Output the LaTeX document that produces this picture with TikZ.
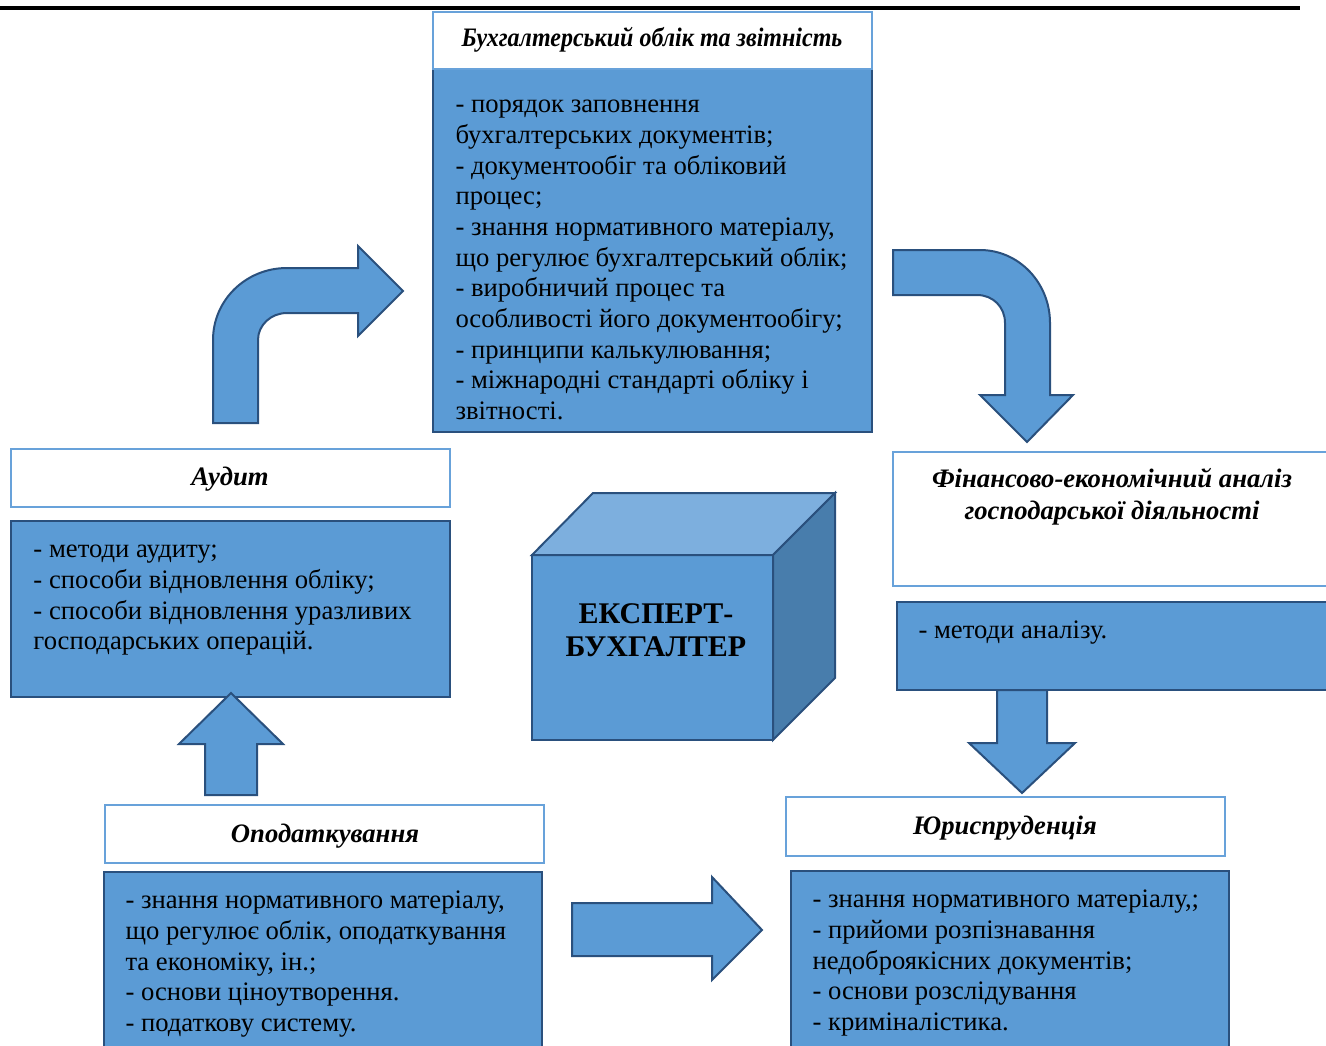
\documentclass[tikz,border=0pt]{standalone}
\usepackage{fontspec}
\setmainfont{Liberation Serif}

\definecolor{boxfill}{RGB}{91,155,213}
\definecolor{boxline}{RGB}{42,80,125}
\definecolor{titleline}{RGB}{104,162,218}
\definecolor{cubetop}{RGB}{125,175,222}
\definecolor{cubeside}{RGB}{72,125,172}

\tikzset{every picture/.style={line width=0.75pt}}
\tikzset{
  bluebox/.style={draw=boxline, fill=boxfill, line width=1.5pt},
  titlebox/.style={draw=titleline, fill=white, line width=2.2pt},
  blockarrow/.style={draw=boxline, fill=boxfill, line width=1.5pt, line join=miter},
  bodytext/.style={anchor=north west, inner sep=0pt, align=left, font=\fontsize{20}{23}\selectfont},
  headtext/.style={inner sep=0pt, align=center, font=\fontsize{20}{24}\selectfont\bfseries\itshape},
}

\begin{document}
\begin{tikzpicture}[x=0.75pt,y=0.75pt,yscale=-1,xscale=1]
\path[use as bounding box] (0,0) rectangle (1326,1045);
\clip (0,0) rectangle (1326,1045);

%Straight Lines: top rule
\draw [line width=3pt]  (0,8) -- (1300,8) ;

%Shape: Rectangle [accounting]
\draw  [bluebox] (433,69) rectangle (872,432) ;
\draw  [titlebox] (433,12) rectangle (872,69) ;
%Shape: Rectangle [audit]
\draw  [titlebox] (11,449) rectangle (450,507) ;
\draw  [bluebox] (11,521) rectangle (450,697) ;
%Shape: Rectangle [analysis]
\draw  [titlebox] (893,452) rectangle (1332,586) ;
\draw  [bluebox] (897,602) rectangle (1332,690) ;
%Shape: Rectangle [taxation]
\draw  [titlebox] (105,805) rectangle (544,863) ;
\draw  [bluebox] (104,872) rectangle (542,1052) ;
%Shape: Rectangle [law]
\draw  [titlebox] (786,797) rectangle (1225,856) ;
\draw  [bluebox] (791,871) rectangle (1229,1052) ;

%Shape: Bent Arrow [up and right]
\draw  [blockarrow] (213,423) -- (213,340) .. controls (213,300) and (246,268) .. (287,268) -- (358,268) -- (358,246) -- (403,291) -- (358,336) -- (358,313) -- (287,313) .. controls (271,313) and (258,325) .. (258,340) -- (258,423) -- cycle ;
%Shape: Bent Arrow [right and down]
\draw  [blockarrow] (893,250) -- (980,250) .. controls (1019,250) and (1050,283) .. (1050,323) -- (1050,395) -- (1073,395) -- (1027,442) -- (980,395) -- (1005,395) -- (1005,323) .. controls (1005,307) and (993,295) .. (977,295) -- (893,295) -- cycle ;
%Shape: Up Arrow
\draw  [blockarrow] (231,693) -- (283,744) -- (257,744) -- (257,795) -- (205,795) -- (205,744) -- (179,744) -- cycle ;
%Shape: Down Arrow
\draw  [blockarrow] (997,690) -- (1047,690) -- (1047,743) -- (1075,743) -- (1022,793) -- (969,743) -- (997,743) -- cycle ;
%Shape: Right Arrow
\draw  [blockarrow] (572,903) -- (712,903) -- (712,877) -- (762,930) -- (712,980) -- (712,956) -- (572,956) -- cycle ;

%Shape: Cube
\draw  [blockarrow] (532,555) rectangle (773,740) ;
\draw  [blockarrow, fill=cubetop] (532,555) -- (593,493) -- (835,493) -- (773,555) -- cycle ;
\draw  [blockarrow, fill=cubeside] (773,555) -- (835,493) -- (835,678) -- (773,740) -- cycle ;

% Text Node
\draw (652,40) node (acchead) [headtext] {\scalebox{0.9}[1]{Бухгалтерський облік та звітність}};
% Text Node
\draw (455,91) node (acctext) [bodytext] {\strut- порядок заповнення\\бухгалтерських документів;\\- документообіг та обліковий\\процес;\\- знання нормативного матеріалу,\\що регулює бухгалтерський облік;\\- виробничий процес та\\особливості його документообігу;\\- принципи калькулювання;\\- міжнародні стандарті обліку і\\звітності.};
% Text Node
\draw (230,479) node (audhead) [headtext] {Аудит};
% Text Node
\draw (33,536) node (audtext) [bodytext] {\strut- методи аудиту;\\- способи відновлення обліку;\\- способи відновлення уразливих\\господарських операцій.};
% Text Node
\draw (1112,497) node (anhead) [headtext] {Фінансово-економічний аналіз\\господарської діяльності};
% Text Node
\draw (918,617) node (antext) [bodytext] {\strut- методи аналізу.};
% Text Node
\draw (325,836) node (taxhead) [headtext] {Оподаткування};
% Text Node
\draw (125,887) node (taxtext) [bodytext] {\strut- знання нормативного матеріалу,\\що регулює облік, оподаткування\\та економіку, ін.;\\- основи ціноутворення.\\- податкову систему.};
% Text Node
\draw (1005,828) node (lawhead) [headtext] {Юриспруденція};
% Text Node
\draw (812,886) node (lawtext) [bodytext] {\strut- знання нормативного матеріалу,;\\- прийоми розпізнавання\\недоброякісних документів;\\- основи розслідування\\- криміналістика.};
% Text Node
\draw (656,630) node (expert) [inner sep=0pt, align=center, font=\fontsize{22.5}{24.75}\selectfont\bfseries] {ЕКСПЕРТ-\\БУХГАЛТЕР};

\end{tikzpicture}
\end{document}
